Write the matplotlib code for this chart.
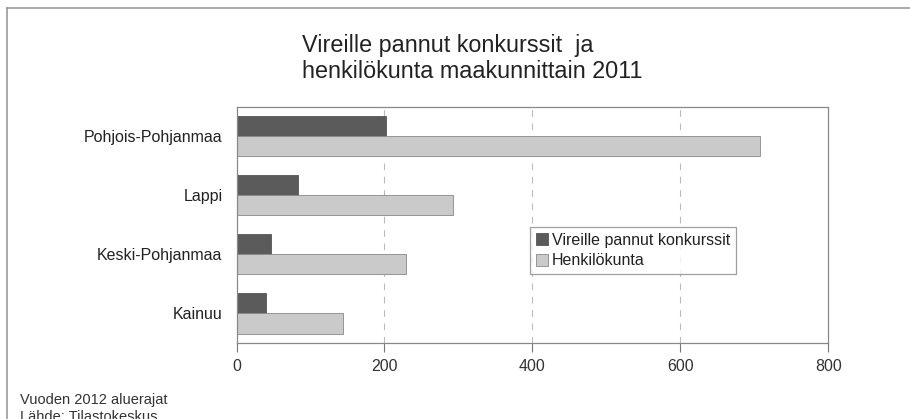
import numpy as np
import matplotlib
matplotlib.use('Agg')
import matplotlib.pyplot as plt
from matplotlib.lines import Line2D

plt.rcParams['font.family'] = ['Liberation Sans', 'DejaVu Sans']

regions = ['Pohjois-Pohjanmaa', 'Lappi', 'Keski-Pohjanmaa', 'Kainuu']
konkurssit = [202, 83, 47, 40]
henkilokunta = [707, 293, 229, 144]
xticks = [0, 200, 400, 600, 800]

fig = plt.figure(figsize=(9.10, 4.19), dpi=100)
ax = fig.add_axes([0.2599, 0.1814, 0.6505, 0.5639])

y = np.arange(len(regions))
h = 0.34
ax.barh(y - h / 2, konkurssit, height=h, color='#5b5b5b', edgecolor='#555555',
        linewidth=0.6, label='Vireille pannut konkurssit')
ax.barh(y + h / 2, henkilokunta, height=h, color='#cacaca', edgecolor='#888888',
        linewidth=0.6, label='Henkilökunta')

ax.set_ylim(3.5, -0.5)
ax.set_xlim(0, 800)
ax.set_xticks(xticks)
ax.set_yticks(y)
ax.set_yticklabels(regions)
ax.tick_params(axis='y', length=0, pad=10, labelsize=11.5, labelcolor='#222222')
ax.tick_params(axis='x', length=6.5, width=0.8, color='#777777', pad=5,
               labelsize=11.5, labelcolor='#333333')
for x in xticks[1:-1]:
    ax.axvline(x, color='#bbbbbb', linestyle=(0, (6, 6)), linewidth=0.8, zorder=0)
for s in ax.spines.values():
    s.set_color('#888888')
    s.set_linewidth(0.9)

leg = ax.legend(loc='upper left', bbox_to_anchor=(0.496, 0.49), fontsize=11.5,
                frameon=True, fancybox=False, edgecolor='#888888',
                handlelength=0.8, handleheight=0.8, handletextpad=0.2,
                borderpad=0.35, labelspacing=0.35, borderaxespad=0)
leg.get_frame().set_linewidth(0.9)
for t in leg.get_texts():
    t.set_color('#222222')

# title, two left-aligned lines
fig.text(302 / 910, 1 - 51.7 / 419, 'Vireille pannut konkurssit  ja', ha='left',
         va='baseline', fontsize=16.8, color='#222222')
fig.text(302 / 910, 1 - 78.2 / 419, 'henkilökunta maakunnittain 2011', ha='left',
         va='baseline', fontsize=16.8, color='#222222')

fig.text(20 / 910, 1 - 400 / 419, 'Vuoden 2012 aluerajat', ha='left', va='center',
         fontsize=10.5, color='#333333')
fig.text(20 / 910, 1 - 417 / 419, 'Lähde: Tilastokeskus', ha='left', va='center',
         fontsize=10.5, color='#333333')

# outer frame (top and left edges)
fig.add_artist(Line2D([7 / 910, 1.0], [1 - 8 / 419, 1 - 8 / 419], transform=fig.transFigure,
                      color='#999999', linewidth=1.2))
fig.add_artist(Line2D([7 / 910, 7 / 910], [0.0, 1 - 8 / 419], transform=fig.transFigure,
                      color='#999999', linewidth=1.2))

fig.savefig('out.png', dpi=100)
